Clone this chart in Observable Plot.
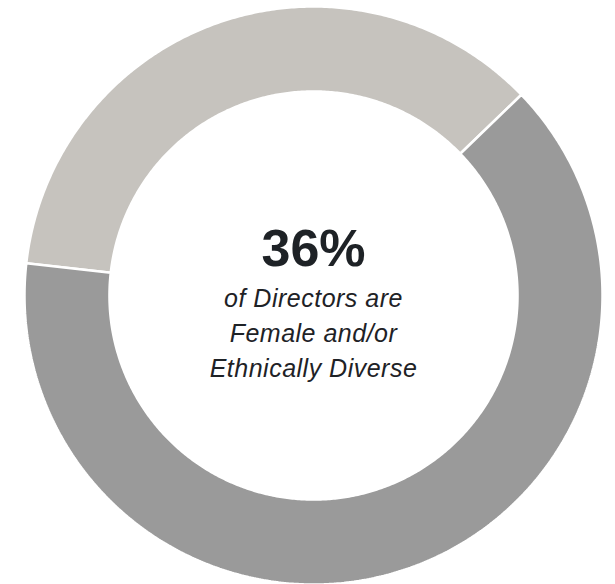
<!DOCTYPE html>
<html>
<head>
<meta charset="utf-8">
<script src="https://cdn.jsdelivr.net/npm/d3@7"></script>
<script src="https://cdn.jsdelivr.net/npm/@observablehq/plot@0.6"></script>
<style>
  html, body { margin: 0; padding: 0; background: #ffffff; }
  #chart svg { display: block; }
  #chart svg g[font-style="italic"] text { letter-spacing: 0.5px; }
</style>
</head>
<body>
<div id="chart"></div>
<script>
// ---- Data ----
const categories = ["Female and/or Ethnically Diverse", "Other Directors"];
const values = [36, 64];
const colors = ["#c6c3be", "#9a9a9a"];
const headline = "36%";
const subtitleLines = ["of Directors are", "Female and/or", "Ethnically Diverse"];

// ---- Layout (donut geometry) ----
const W = 615, H = 584;
const cx = 313, cy = 295, R = 289;
const innerRatio = 0.706;
const startAngle = -83.6; // degrees, clockwise from top

// Build slice outlines from the values (angles from d3.pie)
const pie = d3.pie().sort(null)
  .startAngle(startAngle * Math.PI / 180)
  .endAngle((startAngle + 360) * Math.PI / 180)(values);

const rows = [];
pie.forEach((s, i) => {
  const steps = Math.max(8, Math.ceil((s.endAngle - s.startAngle) / (Math.PI / 360)));
  for (let k = 0; k <= steps; k++) {
    const a = s.startAngle + (s.endAngle - s.startAngle) * k / steps;
    rows.push({cat: categories[i], x: Math.sin(a), y: Math.cos(a)});
  }
  for (let k = steps; k >= 0; k--) {
    const a = s.startAngle + (s.endAngle - s.startAngle) * k / steps;
    rows.push({cat: categories[i], x: innerRatio * Math.sin(a), y: innerRatio * Math.cos(a)});
  }
  const a0 = s.startAngle;
  rows.push({cat: categories[i], x: Math.sin(a0), y: Math.cos(a0)});
});

const chart = Plot.plot({
  width: W,
  height: H,
  margin: 0,
  x: {domain: [-1, 1], range: [cx - R, cx + R], axis: null},
  y: {domain: [-1, 1], range: [cy + R, cy - R], axis: null},
  color: {domain: categories, range: colors},
  style: {background: "#ffffff"},
  marks: [
    Plot.line(rows, {
      x: "x", y: "y", z: "cat",
      fill: "cat",
      stroke: "#ffffff",
      strokeWidth: 2.5,
      strokeLinejoin: "miter",
      curve: "linear"
    }),
    Plot.text([headline], {
      x: () => 0, y: () => 0,
      text: d => d,
      dy: -30,
      lineAnchor: "bottom",
      fontSize: 52,
      fontWeight: "bold",
      fontFamily: "Liberation Sans, Arial, Helvetica, sans-serif",
      fill: "#1e2226"
    }),
    Plot.text([subtitleLines.join("\n")], {
      x: () => 0, y: () => 0,
      text: d => d,
      dy: 81,
      lineAnchor: "bottom",
      lineHeight: 35 / 25,
      fontSize: 25,
      fontStyle: "italic",
      fontFamily: "Liberation Sans, Arial, Helvetica, sans-serif",
      fill: "#1e2226"
    })
  ]
});

document.getElementById("chart").appendChild(chart);
</script>
</body>
</html>
